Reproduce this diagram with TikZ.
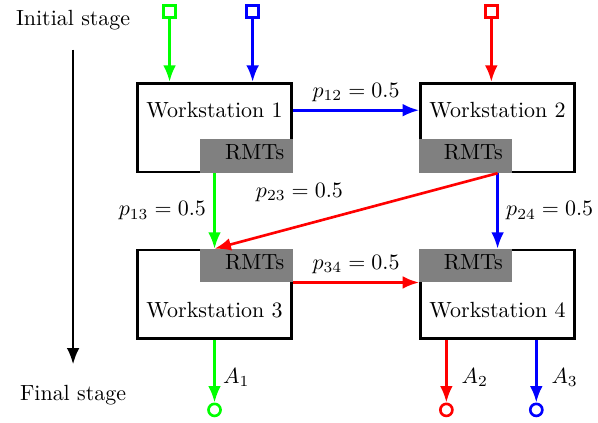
\documentclass[tikz,border=0pt]{standalone}
\usepackage{amsmath,amssymb}
\usepackage{tikz}
\usetikzlibrary{positioning,arrows.meta}

\begin{document}
\begin{tikzpicture} [auto, node distance=1cm, very thick,
                    station/.style={rectangle,draw,minimum width=2.47cm,minimum height=1.42cm},
                    rmt/.style={rectangle,fill=gray,minimum width=1.48cm,minimum height=0.54cm,
                                text width=1.2cm,align=right,inner xsep=4pt,inner ysep=0pt,
                                text depth=3.5pt,outer sep=0pt},
                    src/.style={rectangle,draw,fill=white,minimum size=5.5pt,inner sep=0pt},
                    sink/.style={circle,draw,fill=white,minimum size=5.5pt,inner sep=0pt},
                    flow/.style={-{Latex[length=7.5pt,width=5.8pt]}}]

\useasboundingbox (0,0) rectangle (9.575,-6.773);

\node (init) at (1.17,-0.32) {Initial stage};
\node (fin) [below=5.42cm of init] {Final stage};

\node[station] (ws1) at (3.435,-2.042) {};
\node[station] (ws2) [right=2.02cm of ws1] {};
\node[station] (ws3) [below=1.21cm of ws1] {};
\node[station] (ws4) [right=2.02cm of ws3] {};

\node (name1) [below=0.19cm of ws1.north] {Workstation 1};
\node (name2) [below=0.19cm of ws2.north] {Workstation 2};
\node (name3) [above=0.22cm of ws3.south] {Workstation 3};
\node (name4) [above=0.22cm of ws4.south] {Workstation 4};

\node[rmt,anchor=south east] (r1) at (ws1.south east) {RMTs};
\node[rmt,anchor=south west] (r2) at (ws2.south west) {RMTs};
\node[rmt,anchor=north east] (r3) at (ws3.north east) {RMTs};
\node[rmt,anchor=north west] (r4) at (ws4.north west) {RMTs};

\node[src,draw=green] (in1) [above=1.01cm of ws1.north,xshift=-0.72cm] {};
\node[src,draw=blue] (in2) [above=1.01cm of ws1.north,xshift=0.61cm] {};
\node[src,draw=red] (in3) [above=1.01cm of ws2.north,xshift=-0.1cm] {};

\node[sink,draw=green] (out1) [below=1cm of ws3.south] {};
\node[sink,draw=red] (out2) [below=1cm of ws4.south,xshift=-0.82cm] {};
\node[sink,draw=blue] (out3) [below=1cm of ws4.south,xshift=0.62cm] {};

 \path[flow,every node/.style={text=black}]
    (init) edge[shorten <=0.18cm,shorten >=0.2cm] (fin)
    (in1) edge[green] (in1 |- ws1.north)
    (in2) edge[blue] (in2 |- ws1.north)
    (in3) edge[red] (in3 |- ws2.north)
    (ws1.east |- name1) edge[blue] node[above] {$p_{12} = 0.5$} (ws2.west |- name2)
    (ws1.south) edge[green] node[left] {$p_{13} = 0.5$} (ws3.north)
    (ws2.south) edge[blue] node[right] {$p_{24} = 0.5$} (ws4.north)
    (ws2.south) edge[red] node[pos=0.7,above=0.25cm] {$p_{23} = 0.5$} (ws3.north)
    (r3.south east) edge[red] node[above] {$p_{34} = 0.5$} (r4.south west)
    (ws3.south) edge[green] node[pos=0.6,right] {$A_1$} (out1)
    (out2 |- ws4.south) edge[red] node[pos=0.6,right=3pt] {$A_2$} (out2)
    (out3 |- ws4.south) edge[blue] node[pos=0.6,right=3pt] {$A_3$} (out3);
\end{tikzpicture}
\end{document}
